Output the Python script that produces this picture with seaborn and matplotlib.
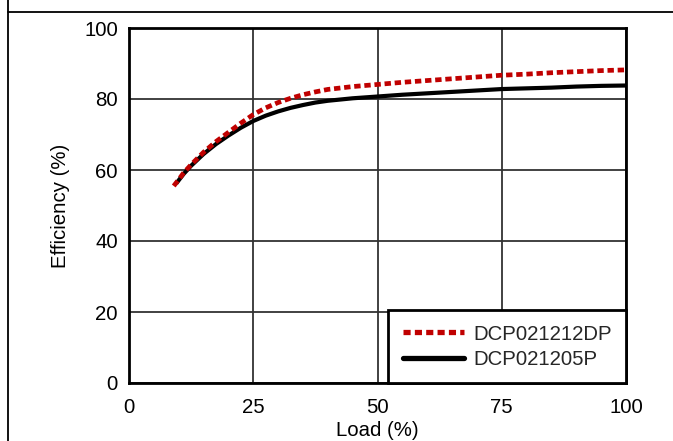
import matplotlib
matplotlib.use("Agg")
import matplotlib.pyplot as plt
import seaborn as sns
import pandas as pd
from matplotlib.lines import Line2D

# values
load_dp = [9, 10, 11, 12.5, 15, 17.5, 20, 22.5, 25, 27.5, 30, 32.5, 35, 37.5, 40,
           45, 50, 55, 60, 65, 70, 75, 80, 85, 90, 95, 100]
eff_dp = [55.5, 57.3, 59.2, 61.5, 65.0, 68.0, 70.6, 73.2, 75.6, 77.5, 79.0, 80.2, 81.2, 82.0, 82.7,
          83.5, 84.1, 84.7, 85.2, 85.7, 86.2, 86.7, 87.0, 87.4, 87.7, 88.0, 88.2]
load_p = [9.5, 10, 11, 12.5, 15, 17.5, 20, 22.5, 25, 27.5, 30, 32.5, 35, 37.5, 40,
          45, 50, 55, 60, 65, 70, 75, 80, 85, 90, 95, 100]
eff_p = [56.2, 57.1, 58.9, 61.2, 64.5, 67.3, 69.7, 71.9, 73.8, 75.3, 76.5, 77.5, 78.3, 79.0, 79.5,
         80.2, 80.7, 81.2, 81.6, 82.0, 82.4, 82.8, 83.0, 83.2, 83.5, 83.7, 83.8]
labels = ["DCP021212DP", "DCP021205P"]
x_ticks = [0, 25, 50, 75, 100]
y_ticks = [0, 20, 40, 60, 80, 100]

sns.set_theme(style="white")
plt.rcParams["font.family"] = ["Liberation Sans", "DejaVu Sans"]
fs = 14.7
red = "#C00000"
dots = (0, (1.35, 0.8))

fig = plt.figure(figsize=(6.73, 4.41), dpi=100)
ax = fig.add_axes([129 / 673, 1 - 383 / 441, (626 - 129) / 673, (383 - 28) / 441])

df_dp = pd.DataFrame({"load": load_dp, "eff": eff_dp})
df_p = pd.DataFrame({"load": load_p, "eff": eff_p})

sns.lineplot(data=df_p, x="load", y="eff", ax=ax, color="black", lw=3,
             solid_capstyle="butt", zorder=3)
sns.lineplot(data=df_dp, x="load", y="eff", ax=ax, color=red, lw=3.4,
             linestyle=dots, dash_capstyle="butt", zorder=4)

ax.set_xlim(0, 100)
ax.set_ylim(0, 100)
ax.set_xticks(x_ticks)
ax.set_yticks(y_ticks)
ax.tick_params(axis="both", labelsize=fs, colors="black", length=0)
ax.tick_params(axis="x", pad=11)
ax.tick_params(axis="y", pad=8)
ax.grid(True, color="#333333", lw=1.3)
for s in ax.spines.values():
    s.set_color("black")
    s.set_linewidth(2)
    s.set_zorder(5)

ax.set_xlabel("Load (%)", fontsize=fs, color="black", labelpad=3)
ax.set_ylabel("Efficiency (%)", fontsize=fs, color="black", labelpad=10)

handles = [Line2D([], [], color=red, lw=3.8, linestyle=dots, dash_capstyle="butt"),
           Line2D([], [], color="black", lw=3.8, solid_capstyle="round")]
leg = ax.legend(handles, labels, loc="lower right", bbox_to_anchor=(1.0, 0.0),
                fontsize=fs, handlelength=3.0, handletextpad=0.45, labelspacing=0.3,
                borderaxespad=0, fancybox=False, framealpha=1, borderpad=0.7)
leg.get_frame().set_edgecolor("black")
leg.get_frame().set_linewidth(2)
leg.set_zorder(6)

# page frame lines around the figure
fig.add_artist(Line2D([8 / 673, 8 / 673], [0, 1], color="black", lw=1.3))
fig.add_artist(Line2D([8 / 673, 1], [1 - 12 / 441, 1 - 12 / 441], color="black", lw=1.3))

fig.savefig("out.png", dpi=100)
